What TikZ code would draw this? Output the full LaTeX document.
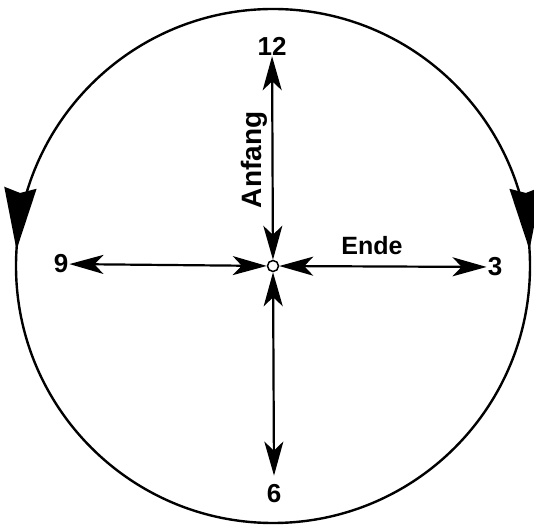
\documentclass[tikz,border=0pt]{standalone}
\usepackage{fontspec}
\setmainfont{Liberation Sans}
\usetikzlibrary{arrows.meta}

\tikzset{
  lbl/.style={font=\fontsize{26}{30}\selectfont\bfseries, inner sep=1pt},
  word/.style={font=\fontsize{#1}{30}\selectfont\bfseries, inner sep=1pt},
  ray/.style={line width=2.2pt, {Stealth[length=34pt,width=19pt,inset=9pt]}-{Stealth[length=34pt,width=19pt,inset=9pt]}},
  rim/.style={line width=2.4pt},
  bigtip/.style={line width=2.4pt, tips, -{Stealth[length=62pt,width=32pt,inset=5pt]}}
}

\begin{document}
\begin{tikzpicture}[x=1pt,y=1pt]
  \useasboundingbox (0,0) rectangle (534,529);
  % clock face
  \coordinate (m) at (273,263);
  \draw[rim] (m) circle[radius=257];
  \path (m) ++(176.4:257) coordinate (lt);
  \path (m) ++(3.6:257) coordinate (rt);
  \path[bigtip] (lt) ++(86.4:2) -- (lt);
  \path[bigtip] (rt) ++(93.6:2) -- (rt);
  % hub and hours
  \node[circle, draw, line width=1.5pt, fill=white, minimum size=11pt, inner sep=0pt] (hub) at (m) {};
  \node[lbl] (h12) at (272,483) {12};
  \node[lbl] (h6) at (274,35) {6};
  \node[lbl] (h9) at (61,265) {9};
  \node[lbl] (h3) at (495,262) {3};
  \draw[ray] (hub) -- (h12);
  \draw[ray] (hub) -- ([yshift=8pt]h6.north);
  \draw[ray] (hub) -- (h9);
  \draw[ray] (hub) -- (h3);
  \node[word=28, rotate=90] (anfang) at (254,369) {Anfang};
  \node[word=25] (ende) at (372,283) {Ende};
\end{tikzpicture}
\end{document}
